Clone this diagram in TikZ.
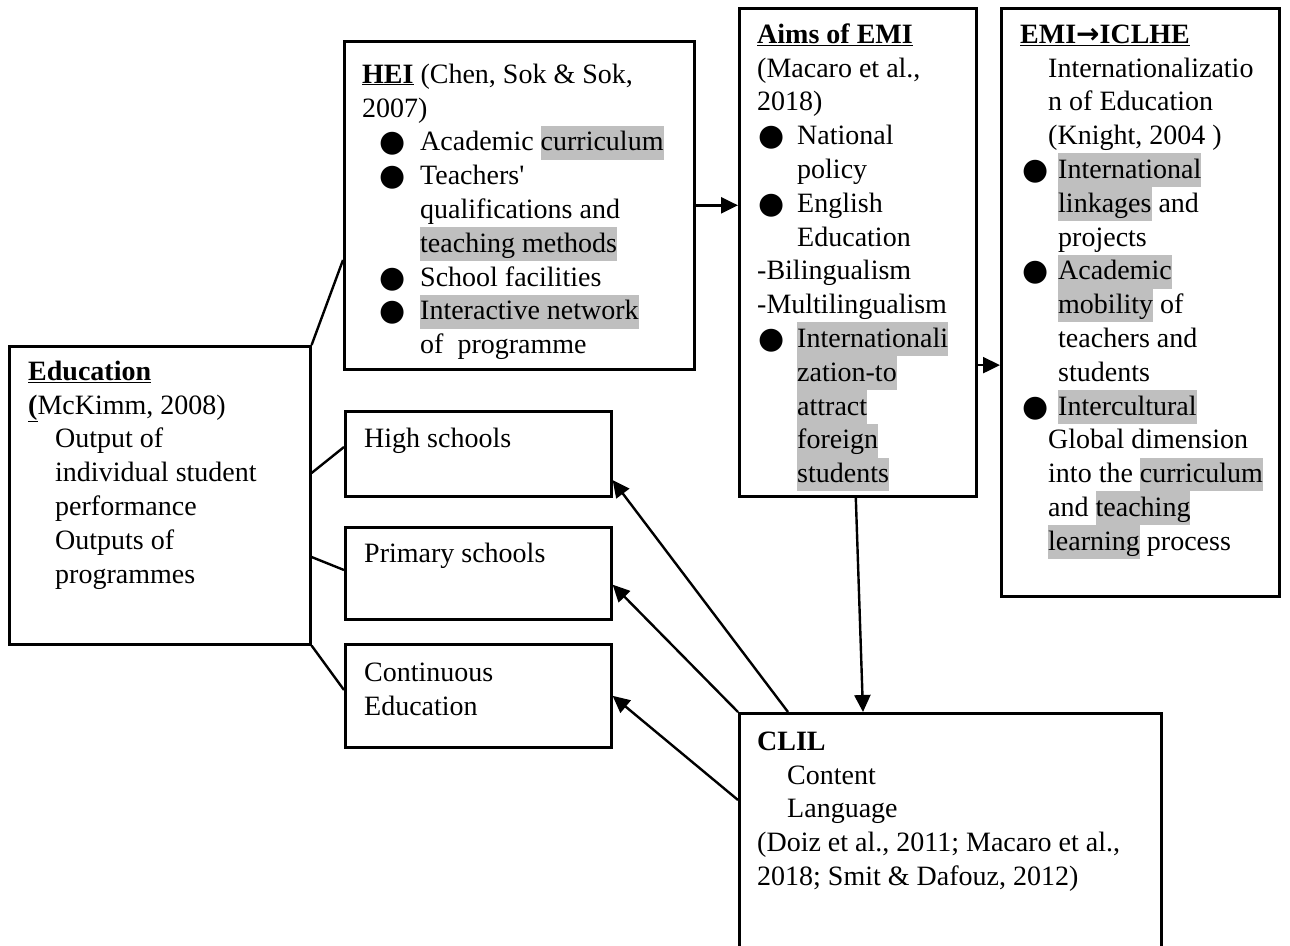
\documentclass[tikz,border=0pt]{standalone}
\usepackage{fontspec}
\setmainfont{Liberation Serif}
\newfontfamily\symfont{DejaVu Sans}
\usetikzlibrary{arrows.meta,calc}
\definecolor{hlgray}{RGB}{191,191,191}
% line strut: every line is exactly one baselineskip tall
\newcommand\st{\rule[-8.8pt]{0pt}{33.8pt}}
% grey highlight of a word group
\newcommand\hl[1]{{\setlength{\fboxsep}{0pt}\colorbox{hlgray}{\st #1}}}
\newcommand\bul{\raisebox{-1pt}{\symfont\fontsize{30}{33.8}\selectfont ●}}
% bullet item: #1 bullet indent, #2 text indent, #3 text
\newcommand\bitem[3]{\makebox[#2][l]{\hspace*{#1}\bul}#3}
% indented line
\newcommand\ind[2]{\hspace*{#1}#2}
\newcommand\hdr[1]{\underline{\textbf{#1}}}
\begin{document}
\begin{tikzpicture}[x=1pt,y=-1pt,
  box/.style={draw, line width=2.6pt, anchor=north west, inner sep=0pt},
  txt/.style={anchor=north west, inner sep=0pt, align=left,
    font=\fontsize{28}{33.8}\selectfont},
  arr/.style={line width=2.4pt, -{Triangle[length=17pt,width=16pt]}},
  link/.style={line width=2.4pt}]
\useasboundingbox (0,0) rectangle (1290,945);
\fill[white] (0,0) rectangle (1290,945);
\clip (0,0) rectangle (1290,945);

% boxes
\node[box, minimum width=350, minimum height=328] (hei)  at (343,40) {};
\node[box, minimum width=237, minimum height=488] (aims) at (738,7) {};
\node[box, minimum width=278, minimum height=588] (emi)  at (1000,7) {};
\node[box, minimum width=301, minimum height=298] (edu)  at (8,345) {};
\node[box, minimum width=266, minimum height=85]  (high) at (344,410) {};
\node[box, minimum width=266, minimum height=92]  (prim) at (344,526) {};
\node[box, minimum width=266, minimum height=103] (cont) at (344,643) {};
\node[box, minimum width=422, minimum height=260] (clil) at (738,712) {};

% box texts
\node[txt] (heitext) at (362,58) {%
\st\hdr{HEI} (Chen, Sok \& Sok,\\
\st 2007)\\
\st\bitem{17pt}{58pt}{Academic \hl{curriculum}}\\
\st\bitem{17pt}{58pt}{Teachers\textquotesingle}\\
\st\ind{58pt}{qualifications and}\\
\st\ind{58pt}{\hl{teaching methods}}\\
\st\bitem{17pt}{58pt}{School facilities}\\
\st\bitem{17pt}{58pt}{\hl{Interactive network}}\\
\st\ind{58pt}{of\ \ programme}};

\node[txt] (aimstext) at (757,18) {%
\st\hdr{Aims of EMI}\\
\st(Macaro et al.,\\
\st 2018)\\
\st\bitem{1pt}{40pt}{National}\\
\st\ind{40pt}{policy}\\
\st\bitem{1pt}{40pt}{English}\\
\st\ind{40pt}{Education}\\
\st -Bilingualism\\
\st -Multilingualism\\
\st\bitem{1pt}{40pt}{\hl{Internationali}}\\
\st\ind{40pt}{\hl{zation-to}}\\
\st\ind{40pt}{\hl{attract}}\\
\st\ind{40pt}{\hl{foreign}}\\
\st\ind{40pt}{\hl{students}}};

\node[txt] (emitext) at (1020,18) {%
\st\hdr{EMI{\symfont\bfseries →}ICLHE}\\
\st\ind{28pt}{Internationalizatio}\\
\st\ind{28pt}{n of Education}\\
\st\ind{28pt}{(Knight, 2004 )}\\
\st\bitem{2pt}{38pt}{\hl{International}}\\
\st\ind{38pt}{\hl{linkages} and}\\
\st\ind{38pt}{projects}\\
\st\bitem{2pt}{38pt}{\hl{Academic}}\\
\st\ind{38pt}{\hl{mobility} of}\\
\st\ind{38pt}{teachers and}\\
\st\ind{38pt}{students}\\
\st\bitem{2pt}{38pt}{\hl{Intercultural}}\\
\st\ind{28pt}{Global dimension}\\
\st\ind{28pt}{into the \hl{curriculum}}\\
\st\ind{28pt}{and \hl{teaching}}\\
\st\ind{28pt}{\hl{learning} process}};

\node[txt] (edutext) at (28,355) {%
\st\hdr{Education}\\
\st\underline{\textbf{(}}McKimm, 2008)\\
\st\ind{27pt}{Output of}\\
\st\ind{27pt}{individual student}\\
\st\ind{27pt}{performance}\\
\st\ind{27pt}{Outputs of}\\
\st\ind{27pt}{programmes}};

\node[txt] (hightext) at (364,422) {\st High schools};
\node[txt] (primtext) at (364,537) {\st Primary schools};
\node[txt] (conttext) at (364,656) {\st Continuous\\\st Education};

\node[txt] (cliltext) at (757,725) {%
\st\textbf{CLIL}\\
\st\ind{30pt}{Content}\\
\st\ind{30pt}{Language}\\
\st(Doiz et al., 2011; Macaro et al.,\\
\st 2018; Smit \& Dafouz, 2012)};

% arrows
\draw[arr] (hei.east) -- (hei.east -| aims.west);
\coordinate (aimsout) at ($(aims.north east)!0.73!(aims.south east)$);
\draw[arr] (aimsout) -- (aimsout -| emi.west);
\draw[arr] ($(aims.south)+(-2,0)$) -- ($(clil.north west)+(125,0)$);
\draw[arr] ($(clil.north west)+(50,0)$) -- ($(high.south east)!0.2!(high.north east)$);
\draw[arr] (clil.north west) -- ($(prim.south east)!0.38!(prim.north east)$);
\draw[arr] ($(clil.north west)+(0,88)$) -- ($(cont.south east)!0.5!(cont.north east)$);

% plain links from the education box
\draw[link] (edu.north east) -- ($(hei.north west)+(0,220)$);
\draw[link] ($(edu.north east)+(0,128)$) -- ($(high.north west)+(0,37)$);
\draw[link] ($(edu.north east)+(0,212)$) -- ($(prim.north west)+(0,44)$);
\draw[link] (edu.south east) -- ($(cont.north west)+(0,47)$);
\end{tikzpicture}
\end{document}
